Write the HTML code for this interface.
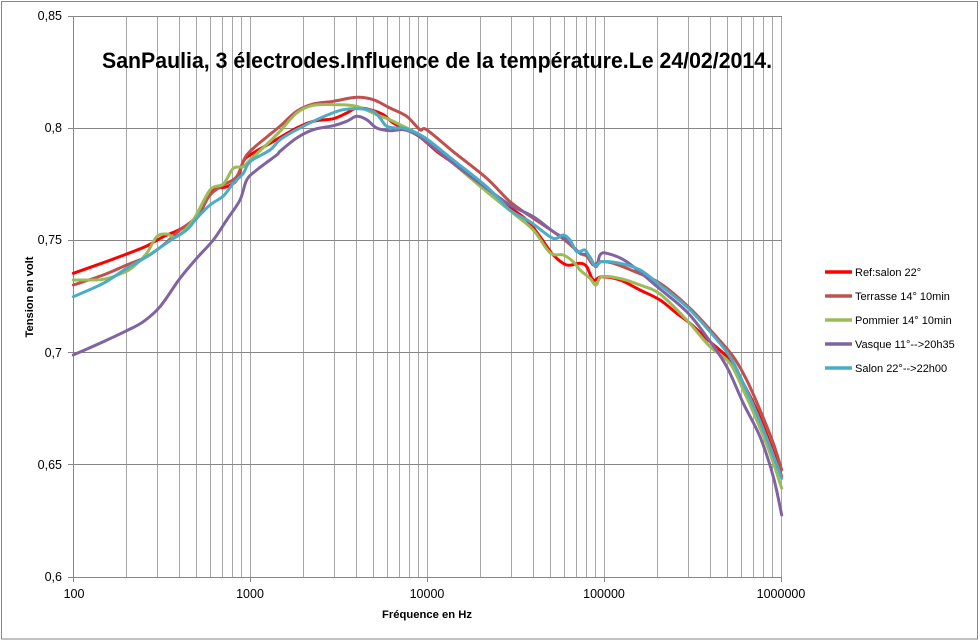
<!DOCTYPE html>
<html><head><meta charset="utf-8"><style>
html,body{margin:0;padding:0;background:#fff;}
svg{display:block;}
text{font-family:"Liberation Sans",sans-serif;fill:#000;}
</style></head><body>
<svg id="chart" width="980" height="641" viewBox="0 0 980 641" xmlns="http://www.w3.org/2000/svg">
<rect x="0" y="0" width="980" height="641" fill="#fff"/>
<rect x="1.5" y="1.5" width="976" height="637.5" fill="none" stroke="#868686" stroke-width="1"/>
<g stroke="#a6a6a6" stroke-width="1" shape-rendering="crispEdges">
<path d="M126.5 16V577M157.5 16V577M179.5 16V577M196.5 16V577M210.5 16V577M222.5 16V577M232.5 16V577M241.5 16V577M250.5 16V577
M303.5 16V577M334.5 16V577M356.5 16V577M373.5 16V577M387.5 16V577M399.5 16V577M409.5 16V577M418.5 16V577M427.5 16V577
M480.5 16V577M511.5 16V577M533.5 16V577M550.5 16V577M564.5 16V577M576.5 16V577M586.5 16V577M595.5 16V577M604.5 16V577
M657.5 16V577M688.5 16V577M710.5 16V577M727.5 16V577M741.5 16V577M753.5 16V577M763.5 16V577M772.5 16V577M781.5 16V577"/>
</g>
<g stroke="#868686" stroke-width="1" shape-rendering="crispEdges">
<path d="M73 16.5H782M73 128.5H782M73 240.5H782M73 352.5H782M73 464.5H782"/>
<path d="M73.5 16V582M68 577.5H782"/>
<path d="M68 16.5H73M68 128.5H73M68 240.5H73M68 352.5H73M68 464.5H73"/>
<path d="M250.5 577V582M427.5 577V582M604.5 577V582M781.5 577V582"/>
</g>
<g font-size="12.5" text-anchor="end">
<text x="62" y="20">0,85</text>
<text x="62" y="132">0,8</text>
<text x="62" y="244">0,75</text>
<text x="62" y="357">0,7</text>
<text x="62" y="469">0,65</text>
<text x="62" y="581">0,6</text>
</g>
<g font-size="12.5" text-anchor="middle">
<text x="74" y="598">100</text>
<text x="250" y="598">1000</text>
<text x="427" y="598">10000</text>
<text x="604" y="598">100000</text>
<text x="781" y="598">1000000</text>
</g>
<text x="427" y="618" font-size="11" font-weight="bold" text-anchor="middle" textLength="90" lengthAdjust="spacingAndGlyphs">Fréquence en Hz</text>
<text transform="translate(33,297) rotate(-90)" font-size="11" font-weight="bold" text-anchor="middle" textLength="81" lengthAdjust="spacingAndGlyphs">Tension en volt</text>
<text x="102" y="68" font-size="22" font-weight="bold" textLength="670" lengthAdjust="spacingAndGlyphs">SanPaulia, 3 électrodes.Influence de la température.Le 24/02/2014.</text>

<g fill="none" stroke-width="3" stroke-linejoin="round" stroke-linecap="round">
<polyline class="s" stroke="#FF0000" points="73.3,273.3 103.3,262.7 126.7,254 146.7,246 163.3,236.7 180,229.3 196.7,218.3 205,203 210,193.3 216.7,188.3 226.7,186.7 236.7,180 243.3,161.7 250,155 270,143.3 296.7,128 313.3,121.3 333.3,118.7 346.7,113 356.7,108 370,109.7 383.3,114.7 393.3,123 406.7,129.7 420,137 436.7,151.3 453.3,163.3 486.7,188.3 506.7,205 526.7,220 540,236.7 553.3,255 566.7,265 580,263.3 586.7,266.7 593.3,280 601.7,276.7 620,280 640,290 660,300 676.7,313.3 690,323.3 710,341.7 730,360 743.3,383.3 756.7,410 770,443.3 781.7,476.7"/>
<polyline class="s" stroke="#C0504D" points="73.3,285 103.3,275 126.7,265 146.7,256.7 163.3,245 180,230 196.7,216.7 210,195 223.3,185 236.7,176.7 246.7,155 268,136 280,126.3 296.7,111.3 313.3,104 333.3,101.3 356.7,97.3 373.3,99.7 390,108 406.7,116.3 420,129.7 426.7,129.7 453.3,151.7 486.7,178.3 510,201.7 533.3,218.3 553.3,231.7 566.7,241.7 580,253.3 586.7,256 593.3,265 600,261.7 613.3,263.3 633.3,271 660,283.3 690,308.3 713.3,333.3 733.3,356.7 746.7,380 760,410 773.3,443.3 781.7,470"/>
<polyline class="s" stroke="#9BBB59" points="73.3,280 103.3,279.3 123.3,272.7 133.3,266.7 146.7,253.3 156.7,236.7 166.7,234 176.7,236.7 193.3,220 210,190 223.3,184 233.3,168.3 243.3,166.7 250,160 265,146 280,131.3 296.7,113 313.3,105.3 336.7,104.7 356.7,106.3 376.7,114.7 390,119.7 400,124.7 413.3,131.3 426.7,141.3 446.7,158 486.7,191.7 513.3,213.3 533.3,230 550,252.7 563.3,255 573.3,261.7 580,270 590,278.3 596,285 601.7,276.7 620,278.5 640,285 660,294 686.7,320 710,346.7 730,363.3 743.3,390 756.7,420 770,453.3 781.7,488.3"/>
<polyline class="s" stroke="#8064A2" points="73.3,355 103.3,341.7 126.7,330.7 143.3,321.7 160,306.7 180,278.3 196.7,258.3 213.3,240 226.7,220 240,200 246.7,180 256.7,170 276.7,155 280,151.3 296.7,138 313.3,129.7 333.3,125.7 346.7,121.3 356.7,116.3 366.7,119.7 376.7,128 390,130.7 403.3,129.7 416.7,134.7 430,144.7 453.3,163.3 486.7,188.3 510,205 533.3,216.7 553.3,231.7 566.7,240 580,253.3 588.3,255 596,266.7 600,255 606.7,253.3 626.7,261.7 660,289 686.7,311.7 706.7,336.7 726.7,366.7 743.3,403.3 760,436.7 773.3,476.7 781.7,515"/>
<polyline class="s" stroke="#4BACC6" points="73.3,296.7 103.3,283.3 126.7,268.3 146.7,256.7 170,240.7 186.7,230 196.7,218.3 210,205 223.3,196 233.3,183.3 243.3,173.3 250,161.7 270,150 280,139.7 296.7,129.7 313.3,121.3 330,114 343.3,109.7 360,108.7 373.3,111.3 380,118 386.7,126.3 396.7,128 403.3,128 416.7,133 430,141.3 453.3,160 486.7,186.7 510,210 530,221.7 550,236.7 556.7,238.3 563.3,235 570,240 576.7,251.7 585,250 590,258.3 596,266 601.7,261.7 620,263.3 640,270 660,285 686.7,306.7 710,331.7 730,356.7 743.3,383.3 756.7,413.3 770,446.7 781.7,478.3"/>
</g>

<g stroke-width="3.5" fill="none">
<line x1="825" y1="272" x2="852" y2="272" stroke="#FF0000"/>
<line x1="825" y1="296" x2="852" y2="296" stroke="#C0504D"/>
<line x1="825" y1="320" x2="852" y2="320" stroke="#9BBB59"/>
<line x1="825" y1="344" x2="852" y2="344" stroke="#8064A2"/>
<line x1="825" y1="368" x2="852" y2="368" stroke="#4BACC6"/>
</g>
<g font-size="11">
<text x="855" y="276">Ref:salon 22°</text>
<text x="855" y="300">Terrasse 14° 10min</text>
<text x="855" y="324">Pommier 14° 10min</text>
<text x="855" y="348">Vasque 11°--&gt;20h35</text>
<text x="855" y="372">Salon 22°--&gt;22h00</text>
</g>
</svg>
<script>
(function(){
  var NS="http://www.w3.org/2000/svg";
  var pls=document.querySelectorAll("polyline.s");
  for(var k=0;k<pls.length;k++){
    var pl=pls[k];
    var raw=pl.getAttribute("points").trim().split(/\s+/);
    var p=[];
    for(var i=0;i<raw.length;i++){var c=raw[i].split(",");p.push([+c[0],+c[1]]);}
    var d="M"+p[0][0]+" "+p[0][1];
    for(var i=0;i<p.length-1;i++){
      var p0=p[i>0?i-1:0],p1=p[i],p2=p[i+1],p3=p[i+2<p.length?i+2:p.length-1];
      var c1x=p1[0]+(p2[0]-p0[0])/6,c1y=p1[1]+(p2[1]-p0[1])/6;
      var c2x=p2[0]-(p3[0]-p1[0])/6,c2y=p2[1]-(p3[1]-p1[1])/6;
      d+="C"+c1x.toFixed(2)+" "+c1y.toFixed(2)+" "+c2x.toFixed(2)+" "+c2y.toFixed(2)+" "+p2[0]+" "+p2[1];
    }
    var path=document.createElementNS(NS,"path");
    path.setAttribute("d",d);
    path.setAttribute("stroke",pl.getAttribute("stroke"));
    pl.parentNode.replaceChild(path,pl);
  }
})();
</script>
</body></html>
